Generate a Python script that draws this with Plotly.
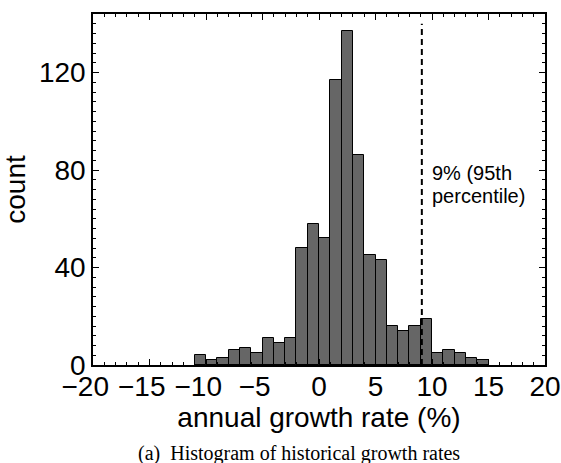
import plotly.graph_objects as go

# Histogram data (bin left edges, width 1)
bin_left = [-11, -10, -9, -8, -7, -6, -5, -4, -3, -2, -1, 0, 1, 2, 3, 4, 5, 6, 7, 8, 9, 10, 11, 12, 13, 14]
counts = [4, 2, 3, 6, 7, 5, 11, 9, 11, 48, 58, 52, 117, 137, 86, 45, 43, 16, 14, 16, 19, 5, 6, 5, 3, 2]
bin_width = 1
percentile_95 = 9.1
percentile_line_top = 140

x_tickvals = [-20, -15, -10, -5, 0, 5, 10, 15, 20]
x_ticktext = ["\u221220\u00a0\u00a0", "\u221215\u00a0\u00a0", "\u221210\u00a0\u00a0", "\u22125\u00a0\u00a0",
              "0", "5", "10", "15", "20"]
y_tickvals = [0, 40, 80, 120]

annot_line1 = "9% (95th"
annot_line2 = "percentile)"
caption = "(a)\u00a0 Histogram of historical growth rates"

font_sans = "Liberation Sans, Arial, Helvetica, sans-serif"
font_serif = "Liberation Serif, Times New Roman, serif"

fig = go.Figure()
fig.add_trace(go.Bar(
    x=[b + bin_width / 2 for b in bin_left],
    y=counts,
    width=bin_width,
    marker=dict(color="#666666", line=dict(color="black", width=1)),
    showlegend=False,
))

fig.add_shape(type="line", xref="x", yref="y",
              x0=percentile_95, x1=percentile_95, y0=0, y1=percentile_line_top,
              line=dict(color="black", width=2, dash="6px,4px"), layer="above")

fig.add_annotation(x=10, y=78.6, xref="x", yref="y", text=annot_line1, showarrow=False,
                   xanchor="left", yanchor="middle", xshift=-2,
                   font=dict(family=font_sans, size=20, color="black"))
fig.add_annotation(x=10, y=69.5, xref="x", yref="y", text=annot_line2, showarrow=False,
                   xanchor="left", yanchor="middle", xshift=-2,
                   font=dict(family=font_sans, size=20, color="black"))

fig.add_annotation(x=0.456, y=-0.252, xref="paper", yref="paper", text=caption, showarrow=False,
                   xanchor="center", yanchor="middle",
                   font=dict(family=font_serif, size=20, color="black"))

axis_common = dict(
    showgrid=False, zeroline=False, showline=True, linecolor="black", linewidth=1.5,
    mirror="ticks", ticks="inside", ticklen=6, tickwidth=1.2, tickcolor="black",
    tickfont=dict(family=font_sans, size=28, color="black"), tickangle=0,
)

fig.update_xaxes(
    range=[-20, 20], tickvals=x_tickvals, ticktext=x_ticktext, ticklabelstandoff=-4,
    minor=dict(dtick=1, ticks="inside", ticklen=3, tickwidth=1, tickcolor="black"),
    title=dict(text="annual growth rate (%)", font=dict(family=font_sans, size=28, color="black"), standoff=0),
    **axis_common,
)
fig.update_yaxes(
    range=[0, 144], tickvals=y_tickvals,
    minor=dict(dtick=4, ticks="inside", ticklen=3, tickwidth=1, tickcolor="black"),
    title=dict(text="count", font=dict(family=font_sans, size=28, color="black"), standoff=6),
    **axis_common,
)

fig.update_layout(
    width=561, height=463,
    margin=dict(l=93, r=16, t=14, b=98, autoexpand=False),
    plot_bgcolor="white", paper_bgcolor="white",
    bargap=0,
)

fig.write_html("out.html", config={"displayModeBar": False},
               post_script="document.body.style.margin='0';document.documentElement.style.overflow='hidden';")
